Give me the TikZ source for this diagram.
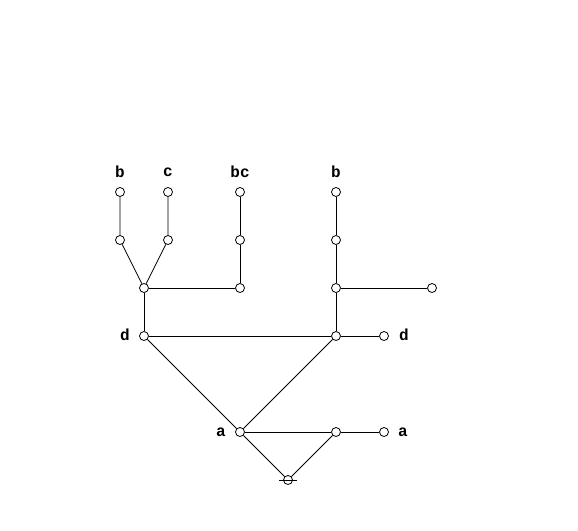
\documentclass[tikz,border=0pt]{standalone}
\usepackage{fontspec}
\newfontfamily\labfont{Liberation Mono}[BoldFont={* Bold}]
\begin{document}
\begin{tikzpicture}[x=1pt,y=-1pt,
  v/.style={circle,draw,fill=white,inner sep=0pt,minimum size=9pt,line width=0.8pt},
  lab/.style={font=\labfont\bfseries\fontsize{16}{16}\selectfont,inner sep=0pt},
  e/.style={line width=0.8pt}]
\useasboundingbox (0,0) rectangle (578,530);
% nodes
\node[v] (t1) at (120,192) {};
\node[v] (t2) at (168,192) {};
\node[v] (t3) at (240,192) {};
\node[v] (t4) at (336,192) {};
\node[v] (m1) at (120,240) {};
\node[v] (m2) at (168,240) {};
\node[v] (m3) at (240,240) {};
\node[v] (m4) at (336,240) {};
\node[v] (j1) at (144,288) {};
\node[v] (j2) at (240,288) {};
\node[v] (j3) at (336,288) {};
\node[v] (j4) at (432,288) {};
\node[v] (d1) at (144,336) {};
\node[v] (d2) at (336,336) {};
\node[v] (d3) at (384,336) {};
\node[v] (a1) at (240,432) {};
\node[v] (a2) at (336,432) {};
\node[v] (a3) at (384,432) {};
\node[v] (r) at (288,480) {};
% labels
\node[lab] (lt1) at (120,172) {b};
\node[lab] (lt2) at (168,172) {c};
\node[lab] (lt3) at (240,172) {bc};
\node[lab] (lt4) at (336,172) {b};
\node[lab] (ld1) at (125,335) {d};
\node[lab] (ld3) at (404,335) {d};
\node[lab] (la1) at (221,432) {a};
\node[lab] (la3) at (403,432) {a};
% edges
\draw[e] (t1) -- (m1) -- (j1);
\draw[e] (t2) -- (m2) -- (j1);
\draw[e] (t3) -- (m3) -- (j2);
\draw[e] (j1) -- (j2);
\draw[e] (t4) -- (m4) -- (j3) -- (j4);
\draw[e] (j1) -- (d1);
\draw[e] (j3) -- (d2);
\draw[e] (d1) -- (d2) -- (d3);
\draw[e] (d1) -- (a1);
\draw[e] (d2) -- (a1);
\draw[e] (a1) -- (a2) -- (a3);
\draw[e] (a1) -- (r);
\draw[e] (a2) -- (r);
\coordinate (rl) at (279,480);
\coordinate (rr) at (297,480);
\draw[e] (rl) -- (rr);
\end{tikzpicture}
\end{document}
